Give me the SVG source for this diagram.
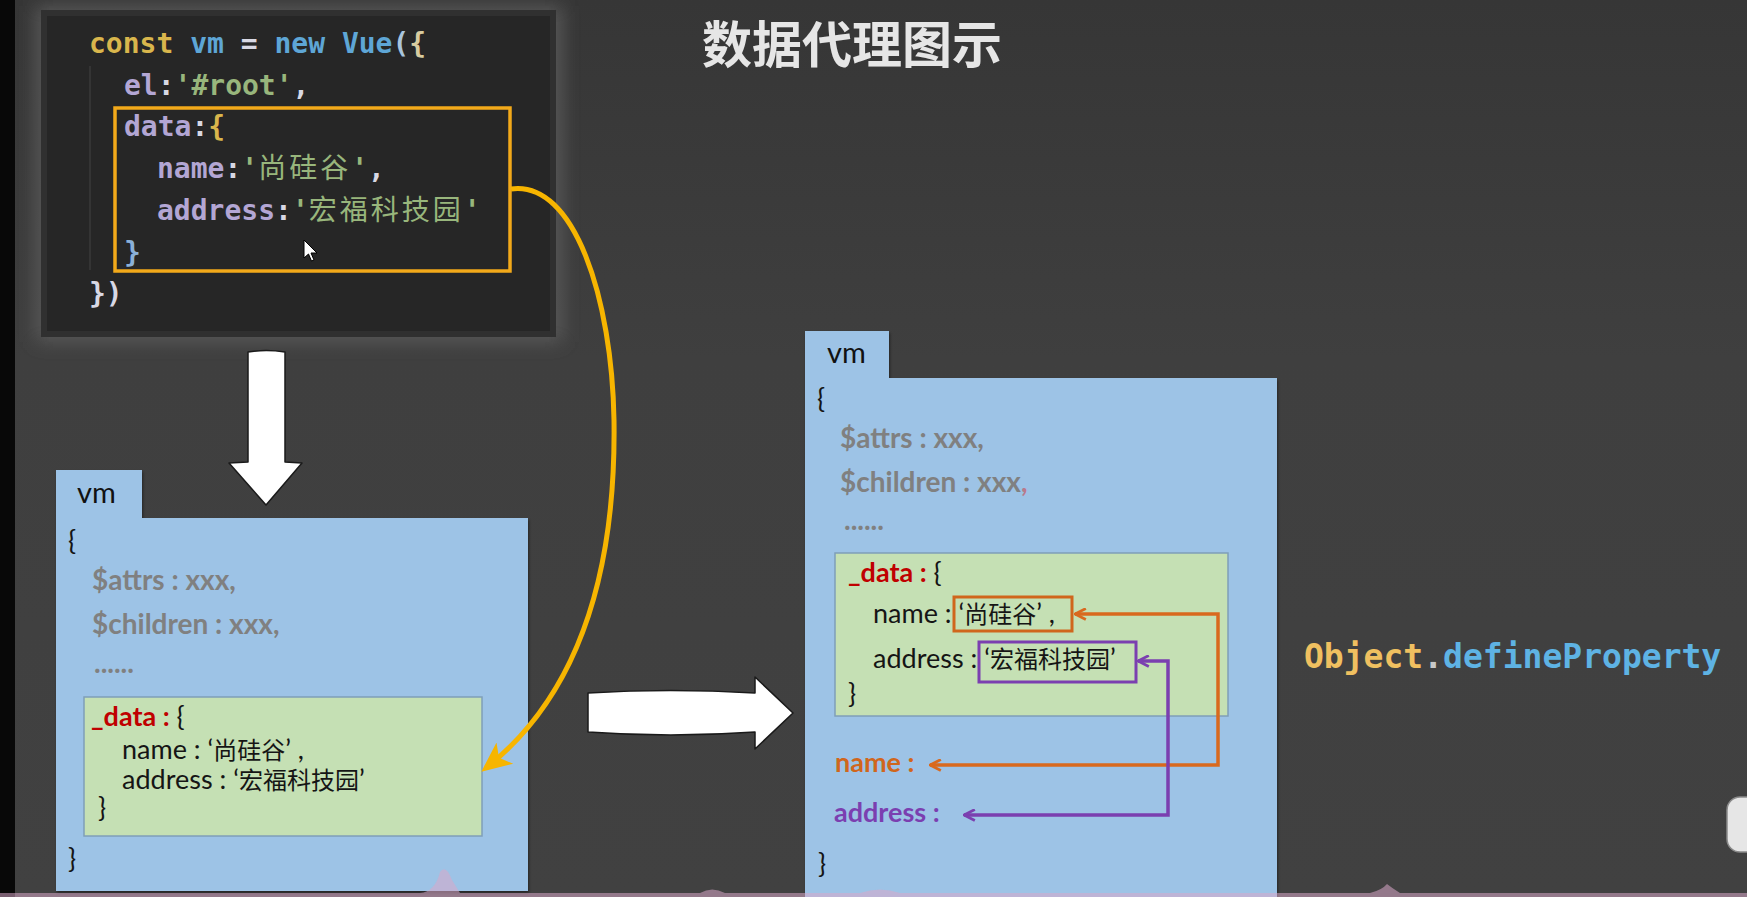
<svg xmlns="http://www.w3.org/2000/svg" width="1747" height="897" viewBox="0 0 1747 897">
<defs>
<style>
.code{font-family:"DejaVu Sans Mono","Liberation Mono","Noto Sans CJK SC",monospace;font-size:28px;font-weight:bold;white-space:pre}
.cjk{font-family:"Noto Sans CJK SC",sans-serif;letter-spacing:3px;font-weight:normal}
.box{font-family:Lato,"Noto Sans CJK SC",sans-serif;font-size:27px;fill:#151515}
.c{font-family:"Noto Sans CJK SC",sans-serif;font-size:24px}
.gray{font-family:Lato,"Noto Sans CJK SC",sans-serif;font-size:28px;font-weight:bold;fill:#808080}
.vm{font-family:Lato,sans-serif;font-size:29px;fill:#111}
.blue{fill:#9dc3e6}
.green{fill:#c5e0b4;stroke:#7f9fb8;stroke-width:1.5}
.red{fill:#c00000;font-weight:bold}
.warrow{fill:#ffffff;stroke:#1a1a1a;stroke-width:1.5;stroke-linejoin:round}
.kw{fill:#d9b64c}.bl{fill:#5ea6d6}.pu{fill:#b3a6d4}.gr{fill:#98b67c}.wh{fill:#d8d8e4}
</style>
<linearGradient id="bg" x1="0" y1="0" x2="0" y2="1">
<stop offset="0" stop-color="#363636"/>
<stop offset="0.4" stop-color="#3f3f3f"/>
<stop offset="1" stop-color="#414141"/>
</linearGradient>
<filter id="glow" x="-20%" y="-20%" width="140%" height="140%"><feGaussianBlur stdDeviation="9"/></filter>
<filter id="sh" x="-5%" y="-5%" width="110%" height="110%"><feDropShadow dx="1" dy="2" stdDeviation="1.5" flood-color="#000" flood-opacity="0.45"/></filter>
<marker id="mo" viewBox="0 0 12 12" refX="11" refY="6" markerWidth="13" markerHeight="13" markerUnits="userSpaceOnUse" orient="auto-start-reverse">
<path d="M1,1 L11,6 L1,11" fill="none" stroke="#d9691e" stroke-width="2.6"/>
</marker>
<marker id="mp" viewBox="0 0 12 12" refX="11" refY="6" markerWidth="13" markerHeight="13" markerUnits="userSpaceOnUse" orient="auto-start-reverse">
<path d="M1,1 L11,6 L1,11" fill="none" stroke="#7b3fb0" stroke-width="2.6"/>
</marker>
<marker id="my" viewBox="0 0 10 10" refX="8" refY="5" markerWidth="30" markerHeight="30" markerUnits="userSpaceOnUse" orient="auto">
<path d="M0,0.5 L10,5 L0,9.5 L2.5,5 Z" fill="#f7b500"/>
</marker>
</defs>

<rect width="1747" height="897" fill="url(#bg)"/>
<rect x="0" y="0" width="15" height="897" fill="#080808"/>

<g id="title">
<text x="702" y="63" font-family="'Noto Sans CJK SC',sans-serif" font-size="50" font-weight="bold" fill="#e6e6e6">数据代理图示</text>
</g>

<g id="code-panel">
<rect x="36" y="6" width="526" height="336" fill="#595959" filter="url(#glow)"/>
<rect x="44" y="13" width="509" height="321" fill="#262626"/>
<rect x="44" y="13" width="509" height="321" fill="none" stroke="#303030" stroke-width="6"/>
<line x1="90" y1="66" x2="90" y2="270" stroke="#3a3a3a" stroke-width="1.5"/>
<text class="code" x="89" y="53"><tspan class="kw">const</tspan> <tspan class="bl">vm</tspan> <tspan class="wh">=</tspan> <tspan class="bl">new</tspan> <tspan class="bl">Vue</tspan><tspan fill="#a9c4dc">(</tspan><tspan fill="#d8cca0">{</tspan></text>
<text class="code" x="124" y="95"><tspan class="pu">el</tspan><tspan class="wh">:</tspan><tspan class="gr">'#root'</tspan><tspan class="wh">,</tspan></text>
<text class="code" x="124" y="136"><tspan class="pu">data</tspan><tspan class="wh">:</tspan><tspan class="kw">{</tspan></text>
<text class="code" x="157" y="178"><tspan class="pu">name</tspan><tspan class="wh">:</tspan><tspan class="gr">'<tspan class="cjk">尚硅谷</tspan>'</tspan><tspan class="wh">,</tspan></text>
<text class="code" x="157" y="220"><tspan class="pu">address</tspan><tspan class="wh">:</tspan><tspan class="gr">'<tspan class="cjk">宏福科技园</tspan>'</tspan></text>
<text class="code" x="124" y="262"><tspan fill="#8ab0d8">}</tspan></text>
<text class="code" x="89" y="303"><tspan class="wh">})</tspan></text>
<rect x="115" y="108" width="395" height="163" fill="none" stroke="#f2a91a" stroke-width="3.5"/>
<path d="M304,240 L304,258 L308.5,254 L311.5,261 L314,260 L311,253 L317,253 Z" fill="#fff" stroke="#000" stroke-width="1"/>
</g>

<g id="down-arrow">
<path class="warrow" d="M248,352 Q266,349 285,352 L285,462 L302,463 L266,505 L229,463 L248,462 Z"/>
</g>

<g id="right-arrow">
<path class="warrow" d="M588,693 Q670,688 755,693 L755,677 L793,713 L755,749 L755,732 Q670,738 588,732 Z"/>
</g>

<g id="vm-left" filter="url(#sh)">
<rect class="blue" x="56" y="470" width="86" height="52"/>
<rect class="blue" x="56" y="518" width="472" height="373"/>
</g>
<g id="vm-left-text">
<text class="vm" x="77" y="503">vm</text>
<text class="box" x="68" y="550">{</text>
<text class="gray" x="92" y="590">$attrs : xxx,</text>
<text class="gray" x="92" y="634">$children : xxx,</text>
<text class="gray" x="94" y="673" font-size="20">......</text>
</g>
<g id="data-left">
<rect class="green" x="84" y="697" width="398" height="139"/>
<text class="box" x="91" y="726"><tspan class="red">_data :</tspan> {</text>
<text class="box" x="122" y="759">name : ‘<tspan class="c">尚硅谷</tspan>’ ,</text>
<text class="box" x="122" y="789">address : ‘<tspan class="c">宏福科技园</tspan>’</text>
<text class="box" x="98" y="817">}</text>
<text class="box" x="68" y="868">}</text>
</g>

<g id="vm-right" filter="url(#sh)">
<rect class="blue" x="805" y="331" width="84" height="52"/>
<rect class="blue" x="805" y="378" width="472" height="530"/>
</g>
<g id="vm-right-text">
<text class="vm" x="827" y="363">vm</text>
<text class="box" x="817" y="408">{</text>
<text class="gray" x="840" y="448">$attrs : xxx,</text>
<text class="gray" x="840" y="492">$children : xxx<tspan fill="#b87a8c">,</tspan></text>
<text class="gray" x="844" y="530" font-size="20">......</text>
<text class="box" x="818" y="873">}</text>
</g>
<g id="data-right">
<rect class="green" x="835" y="553" width="393" height="163"/>
<text class="box" x="848" y="582"><tspan class="red">_data :</tspan> {</text>
<text class="box" x="873" y="623">name : ‘<tspan class="c">尚硅谷</tspan>’ ,</text>
<text class="box" x="873" y="668">address : ‘<tspan class="c">宏福科技园</tspan>’</text>
<text class="box" x="848" y="703">}</text>
<rect x="954" y="597" width="118" height="34" fill="none" stroke="#d0661c" stroke-width="3"/>
<rect x="979" y="642" width="157" height="40" fill="none" stroke="#7b3fb0" stroke-width="3"/>
</g>
<g id="proxy-props">
<text x="835" y="772" font-family="Lato,sans-serif" font-size="27" font-weight="bold" fill="#d0661c">name :</text>
<text x="834" y="822" font-family="Lato,sans-serif" font-size="27" font-weight="bold" fill="#7b3fb0">address :</text>
</g>

<g id="defineProperty">
<text x="1304" y="668" font-family="'DejaVu Sans Mono','Liberation Mono',monospace" font-size="33" font-weight="bold"><tspan fill="#f0c060">Object</tspan><tspan fill="#c8c8c8">.</tspan><tspan fill="#5eb3e4">defineProperty</tspan></text>
</g>

<g id="connectors" fill="none">
<path d="M511,189 C575,180 612,300 614,420 C616,560 585,690 486,768" stroke="#f7b500" stroke-width="5" marker-end="url(#my)"/>
<path d="M1075,614 L1218,614 L1218,765 L930,765" stroke="#d9691e" stroke-width="3.5" marker-start="url(#mo)" marker-end="url(#mo)"/>
<path d="M1138,661 L1168,661 L1168,815 L964,815" stroke="#7b3fb0" stroke-width="3.5" marker-start="url(#mp)" marker-end="url(#mp)"/>
</g>

<g id="artifacts">
<rect x="1727" y="797" width="34" height="55" rx="13" fill="#e6e6e6" stroke="#8a8a8a" stroke-width="1.5"/>
<path d="M0,893 L420,893 Q435,892 440,872 Q446,864 452,880 L460,893 L700,893 Q712,886 725,893 L860,893 Q880,886 900,893 L1370,893 Q1382,890 1387,884 Q1392,888 1400,893 L1747,893 L1747,897 L0,897 Z" fill="#d9a8c8" opacity="0.55"/>
</g>
</svg>
